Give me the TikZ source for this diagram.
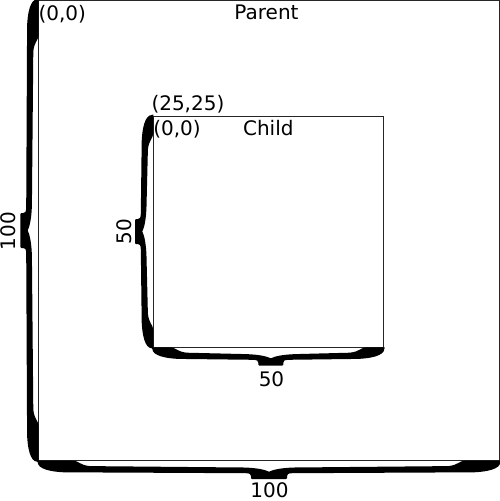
\documentclass[tikz,border=0pt]{standalone}
\usepackage{fontspec}
\setmainfont{DejaVu Sans}
\newcommand{\bracefill}[3]{%
 \pgfmathsetmacro{\brL}{#1}\pgfmathsetmacro{\brW}{#2}\pgfmathsetmacro{\brC}{#3}\pgfmathsetmacro{\brA}{0.076*#1}%
 \fill[bracecol] (-1.5,0) -- (0,0) -- (\brA,0)
  .. controls ({\brA+5},0.3) and ({\brA+6},4.3) .. ({\brA+16},5.4)
  -- ({\brC-25},6.8) .. controls ({\brC-12},7.2) and ({\brC-4},9) .. (\brC,11)
  .. controls ({\brC+4},9) and ({\brC+12},7.2) .. ({\brC+25},6.8)
  -- ({\brL-\brA-16},5.4) .. controls ({\brL-\brA-6},4.3) and ({\brL-\brA-5},0.3) .. ({\brL-\brA},0)
  -- ({\brL+1.5},0) .. controls ({\brL+1.5},6) and ({\brL-4.5},10.5) .. ({\brL-25},11.6)
  -- ({\brC+\brW+5},12.5) .. controls ({\brC+\brW+1},12.7) and ({\brC+\brW},13.5) .. ({\brC+\brW},15.5)
  -- ({\brC+\brW},17.3) .. controls ({\brC+\brW},18) and ({\brC+\brW-0.3},18.3) .. ({\brC+\brW-1},18.3)
  -- ({\brC-\brW+1},18.3) .. controls ({\brC-\brW+0.3},18.3) and ({\brC-\brW},18) .. ({\brC-\brW},17.3)
  -- ({\brC-\brW},15.5) .. controls ({\brC-\brW},13.5) and ({\brC-\brW-1},12.7) .. ({\brC-\brW-5},12.5)
  -- (25,11.6) .. controls (4.5,10.5) and (-1.5,6) .. (-1.5,0) -- cycle;}
\begin{document}
\begin{tikzpicture}[x=1pt,y=-1pt,
  bracecol/.style={fill=black},
  boxline/.style={draw=black!85,line width=1pt},
  lbl/.style={inner sep=0pt,outer sep=0pt,font=\fontsize{20}{24}\selectfont}]
\useasboundingbox (0,0) rectangle (500,501);
\fill[white] (0,0) rectangle (500,501);
% boxes
\draw[boxline] (38.7,0.5) rectangle (499.3,460.7);
\draw[boxline] (153.3,116) rectangle (383.3,347.3);
% braces
\begin{scope}[shift={(38.7,460.7)}]\bracefill{460.6}{18}{230.3}\end{scope}
\begin{scope}[shift={(38.7,0.3)},rotate=-90]\bracefill{460.4}{17.5}{230.2}\end{scope}
\begin{scope}[shift={(153.3,347.3)}]\bracefill{230}{12.5}{117.5}\end{scope}
\begin{scope}[shift={(153.3,116)},rotate=-90]\bracefill{231.3}{12.5}{115.5}\end{scope}
% labels
\node[lbl,anchor=base west] (porig) at (38.5,20) {(0,0)};
\node[lbl,anchor=base] (parent) at (266.5,19.5) {Parent};
\node[lbl,anchor=base west] (cpos) at (151.5,110) {(25,25)};
\node[lbl,anchor=base west] (corig) at (153.3,135) {(0,0)};
\node[lbl,anchor=base] (child) at (268.3,135.7) {Child};
\node[lbl,anchor=base,rotate=90] (pheight) at (16,231) {100};
\node[lbl,anchor=base] (pwidth) at (269.5,497.5) {100};
\node[lbl,anchor=base,rotate=90] (cheight) at (131.7,231.5) {50};
\node[lbl,anchor=base] (cwidth) at (271.5,386.7) {50};
\end{tikzpicture}
\end{document}
